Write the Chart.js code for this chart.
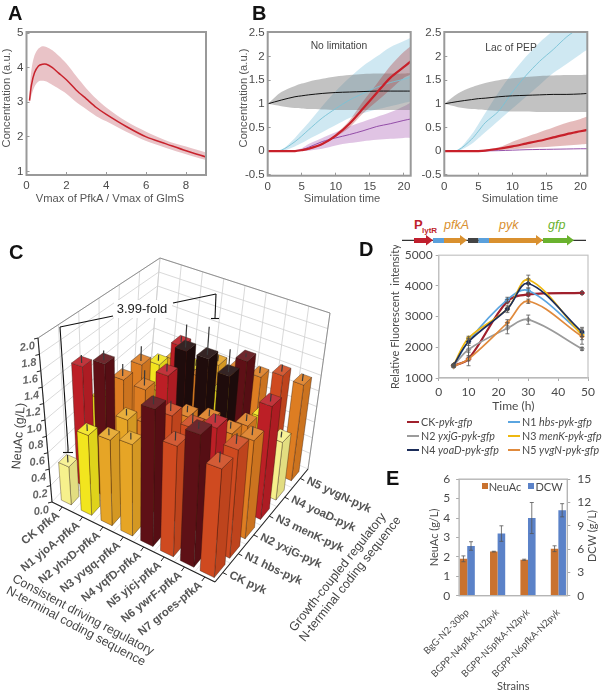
<!DOCTYPE html>
<html>
<head>
<meta charset="utf-8">
<title>NeuAc pathway figure</title>
<script src="https://cdn.jsdelivr.net/npm/chart.js@4"></script>
<style>
html, body { margin: 0; padding: 0; background: #fff; }
body { position: relative; width: 602px; height: 691px; overflow: hidden; font-family: "Liberation Sans", sans-serif; }
canvas { position: absolute; }
.lbl { position: absolute; white-space: nowrap; transform-origin: center; }
.letter { position: absolute; font: bold 20px "Liberation Sans", sans-serif; color: #111; line-height: 20px; }
.key { position: absolute; height: 2px; }
.sq { position: absolute; width: 6px; height: 6px; }
</style>
</head>
<body>
<svg width="602" height="260" style="position:absolute;left:0;top:0">
  <line x1="402" y1="240.3" x2="586" y2="240.3" stroke="#333" stroke-width="1.2"/>
  <polygon points="414,238 426,238 426,235 433,240.3 426,245.5 426,243 414,243" fill="#c01f2d"/>
  <rect x="433" y="238" width="11" height="5" fill="#5aa0dc"/>
  <polygon points="444,238 460,238 460,235 467,240.3 460,245.5 460,243 444,243" fill="#d9902f"/>
  <rect x="468" y="238" width="10.5" height="5" fill="#444"/>
  <rect x="478.5" y="238" width="10.5" height="5" fill="#5aa0dc"/>
  <polygon points="489,238 536,238 536,235 543,240.3 536,245.5 536,243 489,243" fill="#d9902f"/>
  <polygon points="543,238 567,238 567,235 574,240.3 567,245.5 567,243 543,243" fill="#6ab22e"/>
  <text x="414" y="229" font-family="Liberation Sans" font-weight="bold" font-size="13" fill="#c01f2d">P</text>
  <text x="422" y="232.7" font-family="Liberation Sans" font-weight="bold" font-size="8" fill="#c01f2d">lytR</text>
  <text x="444" y="229" font-family="Liberation Sans" font-style="italic" font-size="12.5" fill="#d9902f">pfkA</text>
  <text x="499" y="229" font-family="Liberation Sans" font-style="italic" font-size="12.5" fill="#d9902f">pyk</text>
  <text x="548" y="229" font-family="Liberation Sans" font-style="italic" font-size="12.5" fill="#6ab22e">gfp</text>
</svg>

<script>
// Panel A
const aX = [0.15, 0.25, 0.4, 0.6, 0.8, 1, 1.3, 1.6, 2, 2.5, 3, 3.5, 4, 5, 6, 7, 8, 9];
const aMean = [3.05, 3.5, 3.85, 4.05, 4.1, 4.1, 4.0, 3.85, 3.65, 3.35, 3.1, 2.85, 2.65, 2.3, 2.0, 1.8, 1.6, 1.42];
const aHigh = [3.3, 3.95, 4.35, 4.55, 4.62, 4.6, 4.5, 4.35, 4.12, 3.75, 3.4, 3.1, 2.85, 2.45, 2.15, 1.9, 1.72, 1.55];
const aLow = [2.95, 3.2, 3.45, 3.6, 3.62, 3.6, 3.5, 3.4, 3.25, 3.0, 2.8, 2.6, 2.45, 2.15, 1.88, 1.68, 1.5, 1.33];

// Panel B, shared time points
const bTime = [0, 2, 4, 5, 6, 8, 10, 12, 14, 16, 18, 20, 21];

// No limitation
const b1Black = [1, 1.08, 1.15, 1.17, 1.19, 1.22, 1.24, 1.25, 1.26, 1.27, 1.27, 1.27, 1.27];
const b1BlackHigh = [1, 1.25, 1.38, 1.43, 1.47, 1.53, 1.58, 1.61, 1.63, 1.64, 1.64, 1.64, 1.65];
const b1BlackLow = [1, 0.95, 0.91, 0.9, 0.89, 0.88, 0.87, 0.87, 0.87, 0.87, 0.87, 0.87, 0.87];
const b1Cyan = [0, 0.02, 0.2, 0.32, 0.45, 0.7, 0.9, 1.08, 1.22, 1.35, 1.45, 1.52, 1.57];
const b1CyanHigh = [0, 0.03, 0.28, 0.44, 0.6, 0.95, 1.27, 1.55, 1.8, 2.0, 2.2, 2.33, 2.4];
const b1CyanLow = [0, 0, 0.1, 0.17, 0.25, 0.4, 0.55, 0.7, 0.8, 0.88, 0.95, 1.02, 1.05];
const b1Purple = [0, 0, 0.01, 0.03, 0.08, 0.2, 0.28, 0.35, 0.43, 0.52, 0.58, 0.65, 0.68];
const b1PurpleHigh = [0, 0, 0.02, 0.06, 0.15, 0.28, 0.4, 0.52, 0.62, 0.72, 0.82, 0.95, 1.03];
const b1PurpleLow = [0, 0, 0, 0, 0.01, 0.05, 0.12, 0.17, 0.21, 0.24, 0.26, 0.28, 0.28];
const b1Red = [0, 0, 0, 0.02, 0.05, 0.15, 0.33, 0.58, 0.9, 1.23, 1.55, 1.78, 1.9];
const b1RedHigh = [0, 0, 0, 0.02, 0.06, 0.17, 0.37, 0.65, 1.05, 1.42, 1.8, 2.1, 2.22];
const b1RedLow = [0, 0, 0, 0.02, 0.04, 0.13, 0.3, 0.5, 0.8, 1.05, 1.3, 1.55, 1.62];

// Lac of PEP
const b2Black = [1, 1.05, 1.09, 1.11, 1.12, 1.15, 1.17, 1.18, 1.19, 1.2, 1.2, 1.21, 1.22];
const b2BlackHigh = [1, 1.22, 1.35, 1.4, 1.44, 1.5, 1.54, 1.57, 1.59, 1.6, 1.61, 1.61, 1.62];
const b2BlackLow = [1, 0.93, 0.89, 0.88, 0.87, 0.85, 0.84, 0.84, 0.83, 0.83, 0.83, 0.83, 0.83];
const b2Cyan = [0, 0.02, 0.25, 0.42, 0.6, 0.85, 1.25, 1.6, 1.9, 2.15, 2.42, 2.62, 2.7];
const b2CyanHigh = [0, 0.03, 0.35, 0.57, 0.8, 1.25, 1.65, 2.0, 2.3, 2.55, 2.8, 3.0, 3.1];
const b2CyanLow = [0, 0, 0.15, 0.27, 0.4, 0.65, 0.9, 1.15, 1.4, 1.65, 1.85, 2.05, 2.15];
const b2Purple = [0, 0, 0, 0, 0.005, 0.01, 0.02, 0.03, 0.035, 0.04, 0.045, 0.05, 0.05];
const b2Red = [0, 0, 0, 0, 0.01, 0.05, 0.1, 0.16, 0.22, 0.29, 0.36, 0.42, 0.45];
const b2RedHigh = [0, 0, 0, 0, 0.03, 0.08, 0.2, 0.3, 0.4, 0.5, 0.6, 0.68, 0.73];
const b2RedLow = [0, 0, 0, 0, 0, 0.02, 0.04, 0.06, 0.08, 0.1, 0.12, 0.14, 0.15];

// Panel C, rows are the pyk strains and columns the pfkA strains
const pfkANames = ['CK pfkA', 'N1 yjoA-pfkA', 'N2 yhxD-pfkA', 'N3 yvgq-pfkA', 'N4 yqfD-pfkA', 'N5 yjcj-pfkA', 'N6 ywrF-pfkA', 'N7 groes-pfkA'];
const pykNames = ['CK pyk', 'N1 hbs-pyk', 'N2 yxjG-pyk', 'N3 menK-pyk', 'N4 yoaD-pyk', 'N5 yvgN-pyk'];
const neuAcCK = [0.46, 0.95, 1.0, 1.05, 1.55, 1.23, 1.45, 1.17];
const neuAcN1 = [1.5, 1.63, 1.05, 1.1, 1.3, 1.25, 1.35, 1.2];
const neuAcN2 = [0.9, 1.25, 1.23, 1.5, 1.1, 1.15, 1.1, 1.12];
const neuAcN3 = [0.85, 1.25, 1.0, 1.62, 1.62, 1.5, 1.0, 1.33];
const neuAcN4 = [0.65, 1.05, 1.4, 1.1, 1.0, 1.5, 0.9, 0.7];
const neuAcN5 = [0.5, 0.9, 0.88, 1.05, 1.1, 1.1, 1.22, 1.2];
const neuAcRows = [neuAcCK, neuAcN1, neuAcN2, neuAcN3, neuAcN4, neuAcN5];
const neuAcErr = [
    [0.07, 0.06, 0.06, 0.06, 0.08, 0.08, 0.06, 0.1],
    [0.08, 0.1, 0.06, 0.06, 0.1, 0.1, 0.08, 0.1],
    [0.06, 0.13, 0.17, 0.08, 0.06, 0.06, 0.06, 0.08],
    [0.06, 0.17, 0.06, 0.27, 0.33, 0.26, 0.06, 0.07],
    [0.06, 0.06, 0.06, 0.06, 0.05, 0.03, 0.05, 0.05],
    [0.06, 0.06, 0.06, 0.06, 0.06, 0.06, 0.07, 0.07]
];
// index into barPalette for each bar
const neuAcTone = [
    [0, 1, 2, 2, 6, 4, 6, 4],
    [5, 6, 2, 3, 4, 4, 5, 4],
    [1, 3, 3, 5, 3, 3, 3, 3],
    [2, 3, 1, 7, 7, 7, 3, 5],
    [1, 1, 5, 3, 1, 6, 1, 0],
    [1, 2, 1, 2, 3, 3, 4, 3]
];
const barPalette = ['#f6f08c', '#f2e51e', '#e6a526', '#dd7d22', '#cf4a20', '#bc1f26', '#5e1016', '#1f0c0c'];

// Panel D
const dTime = [5, 10, 23, 30, 48];
const dCK = [1400, 1620, 3500, 3720, 3770];
const dN1 = [1370, 2200, 3550, 3850, 2450];
const dN2 = [1400, 1930, 2620, 2900, 1950];
const dN3 = [1420, 2300, 3250, 4200, 2400];
const dN4 = [1420, 2180, 3250, 4080, 2500];
const dN5 = [1380, 1620, 2800, 3500, 2350];
const dCKErr = [20, 60, 60, 60, 50];
const dN1Err = [30, 80, 80, 80, 100];
const dN2Err = [30, 200, 180, 150, 50];
const dN3Err = [30, 60, 60, 150, 150];
const dN4Err = [30, 120, 120, 150, 150];
const dN5Err = [30, 220, 100, 70, 250];

// Panel E
const eStrains = ['BgG-N2-30bp', 'BGPP-N4pfkA-N2pyk', 'BGPP-N5pfkA-N2pyk', 'BGPP-N6pfkA-N2pyk'];
const eNeuAc = [1.9, 2.27, 1.85, 2.42];
const eNeuAcErr = [0.15, 0.02, 0.03, 0.15];
const eDCW = [6.4, 8, 10, 11];
const eDCWErr = [0.55, 1.0, 2.0, 0.85];

const sans = 'Liberation Sans';
const soft = 'Lato';
const gray = '#4a4a4a';

// error bars for every dataset that carries an errors array
const errorBars = {
    id: 'errorBars',
    afterDatasetsDraw(chart) {
        const ctx = chart.ctx;
        chart.data.datasets.forEach((ds, k) => {
            if (!ds.errors) return;
            const meta = chart.getDatasetMeta(k);
            const scale = chart.scales[meta.yAxisID];
            meta.data.forEach((el, i) => {
                const v = ds.data[i].y;
                const up = scale.getPixelForValue(v + ds.errors[i]);
                const down = scale.getPixelForValue(v - ds.errors[i]);
                ctx.save();
                ctx.strokeStyle = '#555';
                ctx.lineWidth = 0.8;
                ctx.beginPath();
                ctx.moveTo(el.x, up);
                ctx.lineTo(el.x, down);
                ctx.moveTo(el.x - 2, up);
                ctx.lineTo(el.x + 2, up);
                ctx.moveTo(el.x - 2, down);
                ctx.lineTo(el.x + 2, down);
                ctx.stroke();
                ctx.restore();
            });
        });
    }
};

// frame around the plot area
const plotBox = {
    id: 'plotBox',
    afterDraw(chart, args, opts) {
        const a = chart.chartArea;
        const ctx = chart.ctx;
        ctx.save();
        ctx.strokeStyle = opts.color || '#999';
        ctx.lineWidth = opts.width || 2;
        ctx.strokeRect(a.left, a.top, a.right - a.left, a.bottom - a.top);
        ctx.restore();
    }
};

function addCanvas(left, top, width, height) {
    const c = document.createElement('canvas');
    c.width = width;
    c.height = height;
    c.style.left = left + 'px';
    c.style.top = top + 'px';
    c.style.width = width + 'px';
    c.style.height = height + 'px';
    document.body.appendChild(c);
    return c.getContext('2d');
}

function addText(html, x, y, font, color, rotate) {
    const d = document.createElement('div');
    d.className = 'lbl';
    d.innerHTML = html;
    d.style.font = font;
    d.style.color = color;
    d.style.left = x + 'px';
    d.style.top = y + 'px';
    d.style.transform = 'translate(-50%,-50%) rotate(' + (rotate || 0) + 'deg)';
    document.body.appendChild(d);
}

function addLetter(s, x, y) {
    const d = document.createElement('div');
    d.className = 'letter';
    d.textContent = s;
    d.style.left = x + 'px';
    d.style.top = y + 'px';
    document.body.appendChild(d);
}

function zip(xs, ys) {
    return xs.map((x, i) => ({ x: x, y: ys[i] }));
}

// shaded band: upper edge fills down to the lower edge
function band(xs, high, low, color, order) {
    return [
        { data: zip(xs, high), borderWidth: 0, pointRadius: 0, backgroundColor: color, fill: '+1', order: order, tension: 0.3 },
        { data: zip(xs, low), borderWidth: 0, pointRadius: 0, fill: false, order: order, tension: 0.3 }
    ];
}

function curve(xs, ys, color, width, order) {
    return { data: zip(xs, ys), borderColor: color, borderWidth: width, pointRadius: 0, fill: false, order: order, tension: 0.3 };
}

// simulation panels: inner ticks, thick gray frame, plot box fixed through afterFit
function simScales(cfg) {
    return {
        x: {
            type: 'linear', min: cfg.xMin, max: cfg.xMax,
            afterFit: s => { s.height = cfg.bottom; },
            grid: { drawOnChartArea: false, tickLength: -3, color: '#999', tickWidth: 1 },
            border: { display: false },
            ticks: { stepSize: cfg.xStep, includeBounds: false, padding: 7, color: gray, maxRotation: 0, font: { family: sans, size: 11.5 } }
        },
        y: {
            min: cfg.yMin, max: cfg.yMax,
            afterFit: s => { s.width = cfg.left; },
            grid: { drawOnChartArea: false, tickLength: -3, color: '#999', tickWidth: 1 },
            border: { display: false },
            ticks: {
                stepSize: cfg.yStep, includeBounds: false, padding: 6, color: gray, font: { family: sans, size: 11.5 },
                callback: v => String(+v.toFixed(1))
            }
        }
    };
}

function simChart(ctx, datasets, cfg) {
    return new Chart(ctx, {
        type: 'line',
        data: { datasets: datasets },
        options: {
            responsive: false, animation: false,
            layout: { autoPadding: false, padding: { top: cfg.top, right: cfg.right } },
            plugins: { legend: { display: false }, tooltip: { enabled: false }, plotBox: {} },
            scales: simScales(cfg)
        },
        plugins: [plotBox]
    });
}

// Panel A
simChart(addCanvas(0, 0, 240, 207), [
    curve(aX, aMean, '#c8222c', 1.5, 1),
    ...band(aX, aHigh, aLow, '#e9c3c7', 2)
], { left: 26.5, right: 34, top: 32, bottom: 32, xMin: 0, xMax: 9, xStep: 2, yMin: 0.9, yMax: 5.03, yStep: 1 });

// Panel B
const tealBand = 'rgba(130,195,220,0.38)';
const grayBand = 'rgba(120,120,120,0.45)';
const purpleBand = 'rgba(160,70,170,0.32)';
const redBand = 'rgba(175,50,50,0.33)';

simChart(addCanvas(236, 0, 190, 207), [
    curve(bTime, b1Red, '#c8202a', 2.2, 1),
    curve(bTime, b1Black, '#111', 1, 2),
    curve(bTime, b1Purple, '#8a3fa0', 0.9, 2),
    curve(bTime, b1Cyan, '#79c3d6', 0.9, 2),
    ...band(bTime, b1RedHigh, b1RedLow, redBand, 3),
    ...band(bTime, b1BlackHigh, b1BlackLow, grayBand, 4),
    ...band(bTime, b1PurpleHigh, b1PurpleLow, purpleBand, 5),
    ...band(bTime, b1CyanHigh, b1CyanLow, tealBand, 6)
], { left: 31.7, right: 15.3, top: 32, bottom: 31.3, xMin: 0, xMax: 21, xStep: 5, yMin: -0.52, yMax: 2.52, yStep: 0.5 });

simChart(addCanvas(415, 0, 187, 207), [
    curve(bTime, b2Red, '#c8202a', 2.2, 1),
    curve(bTime, b2Black, '#111', 1, 2),
    curve(bTime, b2Purple, '#8a3fa0', 0.9, 2),
    curve(bTime, b2Cyan, '#79c3d6', 0.9, 2),
    ...band(bTime, b2RedHigh, b2RedLow, redBand, 3),
    ...band(bTime, b2BlackHigh, b2BlackLow, grayBand, 4),
    ...band(bTime, b2CyanHigh, b2CyanLow, tealBand, 5)
], { left: 29.3, right: 14.7, top: 32, bottom: 31.3, xMin: 0, xMax: 21, xStep: 5, yMin: -0.52, yMax: 2.52, yStep: 0.5 });

const simTitleFont = '11.2px "Liberation Sans"';
addText('Vmax of PfkA / Vmax of GlmS', 110, 198, simTitleFont, '#555');
addText('Concentration (a.u.)', 6, 98, simTitleFont, '#555', -90);
addText('Concentration (a.u.)', 243, 98, simTitleFont, '#555', -90);
addText('Simulation time', 342, 198, simTitleFont, '#555');
addText('Simulation time', 520, 198, simTitleFont, '#555');
addText('No limitation', 339, 45, '10.3px "Liberation Sans"', '#444');
addText('Lac of PEP', 511, 47, '10.3px "Liberation Sans"', '#444');

// Panel C: 3D bars. Scales give the position in each direction (0..1),
// then the point is placed inside the drawn cage.
const floorCorners = [[52, 502], [215, 582], [308, 469], [148, 398]];
const topCorners = [[38, 338], [228, 395], [330, 313], [160, 258]];

function lerp(a, b, t) { return a + (b - a) * t; }

function cagePoint(u, v, w) {
    const at = c => {
        const fx = lerp(c[0][0], c[1][0], u), fy = lerp(c[0][1], c[1][1], u);
        const bx = lerp(c[3][0], c[2][0], u), by = lerp(c[3][1], c[2][1], u);
        return [lerp(fx, bx, v), lerp(fy, by, v)];
    };
    const f = at(floorCorners), t = at(topCorners);
    return [lerp(f[0], t[0], w), lerp(f[1], t[1], w)];
}

function poly(ctx, pts, fill, stroke) {
    ctx.beginPath();
    pts.forEach((p, i) => { if (i) ctx.lineTo(p[0], p[1]); else ctx.moveTo(p[0], p[1]); });
    ctx.closePath();
    ctx.fillStyle = fill;
    ctx.fill();
    if (stroke) {
        ctx.strokeStyle = stroke;
        ctx.lineWidth = 0.6;
        ctx.stroke();
    }
}

function seg(ctx, a, b, color, width) {
    ctx.strokeStyle = color;
    ctx.lineWidth = width;
    ctx.beginPath();
    ctx.moveTo(a[0], a[1]);
    ctx.lineTo(b[0], b[1]);
    ctx.stroke();
}

function rotatedText(ctx, s, x, y, deg, font, color, align) {
    ctx.save();
    ctx.translate(x, y);
    ctx.rotate(deg * Math.PI / 180);
    ctx.font = font;
    ctx.fillStyle = color;
    ctx.textAlign = align;
    ctx.textBaseline = 'middle';
    ctx.fillText(s, 0, 0);
    ctx.restore();
}

const cage3d = {
    id: 'cage3d',
    afterDatasetsDraw(chart) {
        const ctx = chart.ctx;
        const sx = chart.scales.x, sy = chart.scales.y, sz = chart.scales.z;
        const area = chart.chartArea;
        const uOf = i => (sx.getPixelForValue(i) - area.left) / (area.right - area.left);
        const vOf = j => (area.bottom - sy.getPixelForValue(j)) / (area.bottom - area.top);
        const wOf = n => (area.bottom - sz.getPixelForValue(n)) / (area.bottom - area.top);
        const P = (i, j, n) => cagePoint(uOf(i), vOf(j), wOf(n));

        ctx.save();
        ctx.translate(0, -225);
        ctx.lineCap = 'butt';

        // walls and floor
        const wallColor = '#cfcfcf';
        for (let i = 0; i <= 8; i++) {
            seg(ctx, P(i, 6, 0), P(i, 6, 2), wallColor, 0.8);
            seg(ctx, P(i, 0, 0), P(i, 6, 0), '#dedede', 0.8);
        }
        for (let j = 0; j <= 6; j++) {
            seg(ctx, P(0, j, 0), P(0, j, 2), wallColor, 0.8);
            seg(ctx, P(0, j, 0), P(8, j, 0), '#dedede', 0.8);
        }
        for (let n = 0.2; n < 2.05; n += 0.2) {
            seg(ctx, P(0, 0, n), P(0, 6, n), wallColor, 0.8);
            seg(ctx, P(0, 6, n), P(8, 6, n), wallColor, 0.8);
        }
        seg(ctx, P(0, 0, 2), P(0, 6, 2), '#888', 0.9);
        seg(ctx, P(0, 6, 2), P(8, 6, 2), '#888', 0.9);
        seg(ctx, P(8, 6, 0), P(8, 6, 2), '#888', 0.9);

        // bars from back to front, the nearest ones look a little wider
        const edge = 'rgba(40,20,10,0.6)';
        for (let j = pykNames.length - 1; j >= 0; j--) {
            for (let i = 0; i < pfkANames.length; i++) {
                const item = chart.data.datasets[0].data[j * 8 + i];
                const cx = item.x, cy = item.y, h = item.z;
                const color = barPalette[item.tone];
                const half = 0.235 + 0.13 * uOf(cx) * (1 - vOf(cy));
                const x0 = cx - half, x1 = cx + half, y0 = cy - half, y1 = cy + half;
                poly(ctx, [P(x1, y0, 0), P(x1, y1, 0), P(x1, y1, h), P(x1, y0, h)], color, edge);
                poly(ctx, [P(x1, y0, 0), P(x1, y1, 0), P(x1, y1, h), P(x1, y0, h)], 'rgba(0,0,0,0.08)');
                poly(ctx, [P(x0, y0, 0), P(x1, y0, 0), P(x1, y0, h), P(x0, y0, h)], color, edge);
                poly(ctx, [P(x0, y0, h), P(x1, y0, h), P(x1, y1, h), P(x0, y1, h)], color, edge);
                poly(ctx, [P(x0, y0, h), P(x1, y0, h), P(x1, y1, h), P(x0, y1, h)], 'rgba(255,255,255,0.1)');
                seg(ctx, P(cx, cy, h - 0.02), P(cx, cy, h + item.err), '#3a3a3a', 1.2);
            }
        }

        // axes, ticks and labels
        seg(ctx, P(0, 0, 0), P(8, 0, 0), '#222', 1.1);
        seg(ctx, P(8, 0, 0), P(8, 6, 0), '#222', 1.1);
        seg(ctx, P(0, 0, 0), P(0, 0, 2), '#222', 1.1);
        const tickFont = 'italic bold 11px "Liberation Sans"';
        for (let k = 0; k <= 10; k++) {
            const n = k * 0.2;
            const p = P(0, 0, n);
            seg(ctx, p, [p[0] - 4, p[1] + 1], '#222', 1);
            rotatedText(ctx, n.toFixed(1), p[0] - 3, p[1] + 8, -8, tickFont, '#666', 'right');
        }
        const nameFont = 'bold 11.5px "Liberation Sans"';
        pfkANames.forEach((s, i) => {
            const p = P(i + 0.5, 0, 0);
            seg(ctx, p, [p[0] - 3, p[1] + 4], '#222', 1);
            rotatedText(ctx, s, p[0] - 4, p[1] + 7, -39, nameFont, '#555', 'right');
        });
        pykNames.forEach((s, j) => {
            const p = P(8, j + 0.5, 0);
            seg(ctx, p, [p[0] + 4, p[1] + 2], '#222', 1);
            rotatedText(ctx, s, p[0] + 7, p[1] + 2, 25, nameFont, '#555', 'left');
        });
        const titleFont = '12.5px "Liberation Sans"';
        rotatedText(ctx, 'NeuAc (g/L)', 19, 436, -86, '12.5px "Liberation Sans"', '#444', 'center');
        rotatedText(ctx, 'Consistent driving regulatory', 13, 578, 28, titleFont, '#444', 'left');
        rotatedText(ctx, 'N-terminal coding sequence', 7, 590, 28, titleFont, '#444', 'left');
        rotatedText(ctx, 'Growth-coupled regulatory', 292, 630, -51.5, titleFont, '#444', 'left');
        rotatedText(ctx, 'N-terminal coding sequence', 302, 640, -51.5, titleFont, '#444', 'left');

        // fold change bracket
        seg(ctx, [68, 448], [60, 327], '#111', 1.1);
        seg(ctx, [60, 327], [113, 316], '#111', 1.1);
        seg(ctx, [173, 303], [216, 294], '#111', 1.1);
        seg(ctx, [216, 294], [215, 318], '#111', 1.1);
        seg(ctx, [63, 452.5], [73, 452.5], '#111', 1.1);
        seg(ctx, [68, 448], [68, 452.5], '#111', 1.1);
        seg(ctx, [211, 318.5], [219, 318.5], '#111', 1.1);
        ctx.fillStyle = '#fff';
        ctx.fillRect(114, 300, 58, 18);
        rotatedText(ctx, '3.99-fold', 142, 309, 0, '13px "Liberation Sans"', '#222', 'center');
        ctx.restore();
    }
};

const neuAcPoints = [];
neuAcRows.forEach((row, j) => {
    row.forEach((value, i) => {
        neuAcPoints.push({ x: i + 0.5, y: j + 0.5, z: value, err: neuAcErr[j][i], tone: neuAcTone[j][i] });
    });
});

new Chart(addCanvas(0, 225, 400, 466), {
    type: 'scatter',
    data: { datasets: [{ data: neuAcPoints, pointRadius: 0, showLine: false }] },
    options: {
        responsive: false, animation: false,
        plugins: { legend: { display: false }, tooltip: { enabled: false } },
        scales: {
            x: { type: 'linear', display: false, min: 0, max: 8 },
            y: { type: 'linear', display: false, min: 0, max: 6 },
            z: { type: 'linear', display: false, min: 0, max: 2, position: 'left' }
        }
    },
    plugins: [cage3d]
});

// Panel D
function growth(values, errs, color, width) {
    return {
        data: zip(dTime, values), errors: errs,
        borderColor: color, backgroundColor: color, borderWidth: width,
        pointRadius: 1.6, pointStyle: 'rectRot', fill: false, tension: 0.35
    };
}

new Chart(addCanvas(389, 245, 213, 168), {
    type: 'line',
    data: {
        datasets: [
            growth(dN5, dN5Err, '#e08a3c', 1.7),
            growth(dN4, dN4Err, '#1c2d5a', 1.7),
            growth(dN3, dN3Err, '#eeb810', 1.7),
            growth(dN2, dN2Err, '#9b9b9b', 1.7),
            growth(dN1, dN1Err, '#5aa5e0', 1.7),
            growth(dCK, dCKErr, '#a0202c', 2.2)
        ]
    },
    options: {
        responsive: false, animation: false,
        layout: { autoPadding: false, padding: { top: 10, right: 14 } },
        plugins: { legend: { display: false }, tooltip: { enabled: false }, plotBox: { color: '#c4c4c4', width: 1.2 } },
        scales: {
            x: {
                type: 'linear', min: 0, max: 50,
                afterFit: s => { s.height = 35; },
                grid: { drawOnChartArea: false, tickLength: 3, color: '#aaa' },
                border: { color: '#aaa', width: 1.2 },
                ticks: { stepSize: 10, padding: 4, color: gray, maxRotation: 0, font: { family: soft, size: 12 } },
                title: { display: true, text: 'Time (h)', color: gray, padding: 0, font: { family: soft, size: 12 } }
            },
            y: {
                min: 1000, max: 5000,
                afterFit: s => { s.width = 49.7; },
                grid: { drawOnChartArea: false, tickLength: 3, color: '#aaa' },
                border: { color: '#aaa', width: 1.2 },
                ticks: { stepSize: 1000, padding: 3, color: gray, font: { family: soft, size: 12 }, callback: v => String(v) },
                title: { display: true, text: 'Relative Fluorescent  intensity', color: gray, padding: 0, font: { family: soft, size: 11 } }
            }
        }
    },
    plugins: [errorBars, plotBox]
});

const dLegend = [
    ['CK-<i>pyk-gfp</i>', '#a0202c', 407, 422],
    ['N1 <i>hbs-pyk-gfp</i>', '#5aa5e0', 508, 422],
    ['N2 <i>yxjG-pyk-gfp</i>', '#9b9b9b', 407, 436],
    ['N3 <i>menK-pyk-gfp</i>', '#eeb810', 508, 436],
    ['N4 <i>yoaD-pyk-gfp</i>', '#1c2d5a', 407, 450],
    ['N5 <i>yvgN-pyk-gfp</i>', '#e08a3c', 508, 450]
];
dLegend.forEach(item => {
    const key = document.createElement('div');
    key.className = 'key';
    key.style.left = item[2] + 'px';
    key.style.top = (item[3] - 1) + 'px';
    key.style.width = '12px';
    key.style.background = item[1];
    document.body.appendChild(key);
    const t = document.createElement('div');
    t.className = 'lbl';
    t.innerHTML = item[0];
    t.style.font = '10.7px Lato';
    t.style.color = gray;
    t.style.left = (item[2] + 14) + 'px';
    t.style.top = (item[3] - 7) + 'px';
    document.body.appendChild(t);
});

// Panel E
new Chart(addCanvas(420, 465, 182, 228), {
    type: 'bar',
    data: {
        datasets: [
            { data: zip([0, 1, 2, 3], eNeuAc), errors: eNeuAcErr, backgroundColor: '#c9722f', yAxisID: 'y' },
            { data: zip([0, 1, 2, 3], eDCW), errors: eDCWErr, backgroundColor: '#5b82c8', yAxisID: 'y2' }
        ]
    },
    options: {
        responsive: false, animation: false,
        layout: { autoPadding: false, padding: { top: 10 } },
        datasets: { bar: { barPercentage: 1, categoryPercentage: 0.5 } },
        plugins: { legend: { display: false }, tooltip: { enabled: false }, plotBox: { color: '#b5b5b5', width: 1.4 } },
        scales: {
            x: {
                type: 'linear', min: -0.267, max: 3.294, offset: false,
                afterFit: s => { s.height = 97.3; },
                grid: { display: false },
                border: { display: false },
                ticks: {
                    stepSize: 1, includeBounds: false, autoSkip: false, minRotation: 45, maxRotation: 45, padding: 3,
                    color: gray, font: { family: soft, size: 9.5 },
                    callback: v => eStrains[v]
                },
                title: { display: true, text: 'Strains', color: gray, padding: 0, font: { family: soft, size: 11 } }
            },
            y: {
                min: 0, max: 6,
                afterFit: s => { s.width = 31; },
                grid: { drawOnChartArea: false, tickLength: 3, color: '#aaa' },
                border: { display: false },
                ticks: { stepSize: 1, padding: 6, color: gray, font: { family: soft, size: 12 } },
                title: { display: true, text: 'NeuAc (g/L)', color: gray, padding: 0, font: { family: soft, size: 11 } }
            },
            y2: {
                position: 'right', min: 0, max: 15,
                afterFit: s => { s.width = 34.7; },
                grid: { drawOnChartArea: false, tickLength: 3, color: '#aaa' },
                border: { display: false },
                ticks: { stepSize: 3, padding: 7, color: gray, font: { family: soft, size: 12 } }
            }
        }
    },
    plugins: [errorBars, plotBox]
});

addText('DCW (g/L)', 591, 536, '11px Lato', gray, -90);
addText('NeuAc', 505, 485.5, '11px Lato', gray);
addText('DCW', 549, 485.5, '11px Lato', gray);
[['#c9722f', 482], ['#5b82c8', 528]].forEach(s => {
    const q = document.createElement('div');
    q.className = 'sq';
    q.style.background = s[0];
    q.style.left = s[1] + 'px';
    q.style.top = '482.5px';
    document.body.appendChild(q);
});

addLetter('A', 8, 3);
addLetter('B', 252, 3);
addLetter('C', 9, 242);
addLetter('D', 359, 239);
addLetter('E', 386, 468);
</script>
</body>
</html>
